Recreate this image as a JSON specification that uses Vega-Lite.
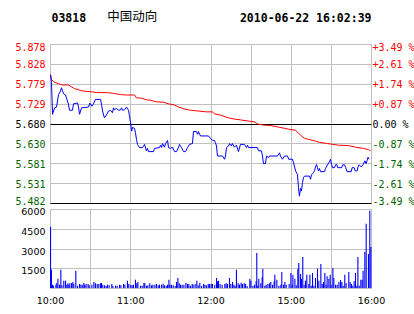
{
 "$schema": "https://vega.github.io/schema/vega-lite/v6.json",
 "padding": {"left": 14, "top": 10, "right": 0, "bottom": 5},
 "background": "#ffffff",
 "config": {
  "view": {"stroke": "#c0c0c0"},
  "axis": {"gridColor": "#c0c0c0", "gridOpacity": 1, "domain": false, "ticks": false}
 },
 "bounds": "flush",
 "spacing": 6,
 "datasets": {
  "avg": [
   {"t":0.4,"p":5.802},{"t":1.1,"p":5.790},{"t":2.6,"p":5.784},{"t":6.4,"p":5.779},{"t":9.3,"p":5.776},{"t":13.8,"p":5.776},{"t":16.1,"p":5.771},{"t":18.3,"p":5.767},{"t":21.3,"p":5.764},{"t":24.3,"p":5.761},{"t":31.0,"p":5.759},{"t":34.8,"p":5.757},{"t":42.2,"p":5.757},{"t":47.5,"p":5.755},{"t":52.7,"p":5.752},{"t":57.2,"p":5.751},{"t":63.2,"p":5.751},{"t":64.7,"p":5.744},{"t":68.4,"p":5.743},{"t":72.1,"p":5.739},{"t":75.1,"p":5.738},{"t":79.6,"p":5.734},{"t":84.9,"p":5.733},{"t":88.6,"p":5.729},{"t":93.1,"p":5.726},{"t":96.1,"p":5.721},{"t":100.6,"p":5.716},{"t":105.0,"p":5.713},{"t":111.0,"p":5.711},{"t":117.0,"p":5.709},{"t":121.5,"p":5.709},{"t":123.0,"p":5.704},{"t":127.5,"p":5.701},{"t":133.5,"p":5.694},{"t":137.9,"p":5.691},{"t":142.4,"p":5.689},{"t":148.4,"p":5.686},{"t":152.9,"p":5.684},{"t":155.1,"p":5.679},{"t":159.6,"p":5.676},{"t":164.9,"p":5.675},{"t":170.8,"p":5.671},{"t":175.3,"p":5.668},{"t":178.3,"p":5.666},{"t":183.6,"p":5.663},{"t":185.8,"p":5.656},{"t":188.0,"p":5.649},{"t":190.3,"p":5.643},{"t":194.0,"p":5.640},{"t":198.5,"p":5.636},{"t":201.5,"p":5.633},{"t":207.5,"p":5.630},{"t":215.7,"p":5.626},{"t":223.2,"p":5.625},{"t":228.4,"p":5.621},{"t":234.4,"p":5.618},{"t":238.1,"p":5.615},{"t":239.6,"p":5.612}
  ],
  "px": [
   {"t":0.4,"p":5.801},{"t":1.1,"p":5.782},{"t":1.9,"p":5.703},{"t":3.4,"p":5.719},{"t":4.9,"p":5.721},{"t":5.6,"p":5.736},{"t":6.4,"p":5.752},{"t":7.9,"p":5.761},{"t":8.6,"p":5.769},{"t":9.3,"p":5.762},{"t":10.1,"p":5.754},{"t":11.6,"p":5.751},{"t":12.3,"p":5.744},{"t":13.8,"p":5.728},{"t":14.6,"p":5.713},{"t":16.8,"p":5.713},{"t":17.6,"p":5.729},{"t":20.6,"p":5.731},{"t":21.3,"p":5.721},{"t":22.1,"p":5.703},{"t":23.6,"p":5.719},{"t":28.8,"p":5.721},{"t":29.8,"p":5.731},{"t":31.3,"p":5.723},{"t":32.5,"p":5.729},{"t":34.0,"p":5.740},{"t":37.8,"p":5.740},{"t":38.5,"p":5.728},{"t":39.3,"p":5.711},{"t":40.7,"p":5.694},{"t":42.2,"p":5.701},{"t":43.7,"p":5.711},{"t":45.2,"p":5.713},{"t":46.7,"p":5.707},{"t":47.5,"p":5.719},{"t":48.2,"p":5.714},{"t":49.7,"p":5.718},{"t":51.2,"p":5.713},{"t":52.7,"p":5.714},{"t":53.5,"p":5.719},{"t":54.2,"p":5.713},{"t":55.7,"p":5.714},{"t":57.2,"p":5.721},{"t":58.7,"p":5.713},{"t":59.4,"p":5.699},{"t":60.2,"p":5.683},{"t":61.0,"p":5.661},{"t":61.7,"p":5.670},{"t":63.2,"p":5.668},{"t":63.9,"p":5.657},{"t":64.7,"p":5.640},{"t":65.4,"p":5.628},{"t":66.9,"p":5.620},{"t":69.2,"p":5.620},{"t":70.7,"p":5.628},{"t":72.1,"p":5.612},{"t":72.9,"p":5.618},{"t":73.6,"p":5.610},{"t":77.4,"p":5.610},{"t":78.1,"p":5.618},{"t":81.9,"p":5.620},{"t":82.6,"p":5.626},{"t":83.4,"p":5.620},{"t":84.1,"p":5.630},{"t":85.6,"p":5.621},{"t":86.4,"p":5.630},{"t":87.9,"p":5.638},{"t":88.6,"p":5.620},{"t":90.1,"p":5.618},{"t":91.6,"p":5.621},{"t":93.1,"p":5.610},{"t":94.6,"p":5.610},{"t":96.1,"p":5.621},{"t":96.8,"p":5.628},{"t":98.3,"p":5.620},{"t":99.8,"p":5.610},{"t":101.3,"p":5.610},{"t":102.8,"p":5.620},{"t":104.3,"p":5.628},{"t":106.5,"p":5.630},{"t":107.3,"p":5.660},{"t":109.5,"p":5.660},{"t":110.3,"p":5.653},{"t":111.0,"p":5.660},{"t":112.5,"p":5.649},{"t":118.5,"p":5.649},{"t":120.0,"p":5.643},{"t":121.5,"p":5.638},{"t":123.0,"p":5.638},{"t":123.7,"p":5.632},{"t":124.5,"p":5.624},{"t":125.2,"p":5.599},{"t":129.0,"p":5.599},{"t":130.5,"p":5.591},{"t":131.2,"p":5.599},{"t":132.0,"p":5.620},{"t":133.5,"p":5.624},{"t":134.2,"p":5.630},{"t":135.7,"p":5.624},{"t":136.4,"p":5.630},{"t":137.9,"p":5.621},{"t":139.4,"p":5.626},{"t":140.9,"p":5.610},{"t":142.4,"p":5.628},{"t":145.4,"p":5.628},{"t":146.9,"p":5.620},{"t":147.7,"p":5.626},{"t":148.4,"p":5.620},{"t":155.1,"p":5.620},{"t":155.9,"p":5.612},{"t":158.1,"p":5.612},{"t":158.9,"p":5.599},{"t":159.6,"p":5.580},{"t":161.1,"p":5.580},{"t":161.9,"p":5.599},{"t":163.4,"p":5.595},{"t":164.1,"p":5.599},{"t":170.1,"p":5.599},{"t":171.6,"p":5.607},{"t":172.3,"p":5.599},{"t":173.8,"p":5.591},{"t":175.3,"p":5.599},{"t":177.6,"p":5.599},{"t":178.4,"p":5.591},{"t":181.3,"p":5.591},{"t":182.1,"p":5.582},{"t":183.6,"p":5.562},{"t":185.0,"p":5.553},{"t":185.8,"p":5.520},{"t":186.5,"p":5.499},{"t":187.3,"p":5.518},{"t":188.0,"p":5.512},{"t":188.8,"p":5.533},{"t":189.5,"p":5.545},{"t":190.3,"p":5.549},{"t":194.0,"p":5.549},{"t":194.8,"p":5.541},{"t":195.5,"p":5.552},{"t":196.3,"p":5.555},{"t":197.8,"p":5.562},{"t":198.5,"p":5.572},{"t":199.3,"p":5.578},{"t":200.0,"p":5.570},{"t":200.7,"p":5.562},{"t":201.5,"p":5.568},{"t":202.2,"p":5.560},{"t":205.2,"p":5.560},{"t":206.0,"p":5.568},{"t":207.5,"p":5.577},{"t":209.0,"p":5.585},{"t":209.7,"p":5.591},{"t":210.5,"p":5.578},{"t":211.2,"p":5.570},{"t":212.7,"p":5.570},{"t":213.7,"p":5.578},{"t":214.4,"p":5.578},{"t":215.1,"p":5.570},{"t":218.1,"p":5.570},{"t":218.8,"p":5.577},{"t":220.3,"p":5.577},{"t":221.1,"p":5.570},{"t":222.1,"p":5.560},{"t":225.2,"p":5.560},{"t":225.9,"p":5.570},{"t":227.4,"p":5.570},{"t":228.2,"p":5.562},{"t":229.7,"p":5.562},{"t":230.3,"p":5.572},{"t":231.1,"p":5.577},{"t":232.6,"p":5.572},{"t":234.1,"p":5.578},{"t":235.5,"p":5.587},{"t":236.3,"p":5.580},{"t":237.1,"p":5.588},{"t":237.8,"p":5.596},{"t":238.6,"p":5.591}
  ],
  "vol": [
   {"t":0.4,"v":4655},{"t":1.1,"v":1390},{"t":1.9,"v":253},{"t":2.6,"v":177},{"t":4.4,"v":253},{"t":5.1,"v":380},{"t":5.9,"v":708},{"t":7.1,"v":253},{"t":8.1,"v":1392},{"t":8.9,"v":202},{"t":10.3,"v":557},{"t":11.6,"v":557},{"t":12.1,"v":253},{"t":13.3,"v":354},{"t":14.1,"v":253},{"t":14.8,"v":354},{"t":16.1,"v":380},{"t":17.1,"v":455},{"t":17.8,"v":304},{"t":19.3,"v":1316},{"t":20.6,"v":177},{"t":22.1,"v":304},{"t":23.1,"v":253},{"t":24.1,"v":253},{"t":25.3,"v":380},{"t":26.0,"v":253},{"t":27.0,"v":304},{"t":28.5,"v":304},{"t":29.3,"v":202},{"t":31.3,"v":253},{"t":32.8,"v":455},{"t":34.0,"v":354},{"t":35.3,"v":304},{"t":36.5,"v":304},{"t":37.8,"v":354},{"t":38.5,"v":380},{"t":39.5,"v":253},{"t":40.8,"v":202},{"t":42.0,"v":152},{"t":43.0,"v":253},{"t":44.2,"v":202},{"t":46.2,"v":304},{"t":47.0,"v":152},{"t":49.0,"v":177},{"t":50.2,"v":177},{"t":52.0,"v":253},{"t":53.0,"v":202},{"t":55.0,"v":304},{"t":56.0,"v":253},{"t":57.9,"v":557},{"t":58.9,"v":304},{"t":60.4,"v":253},{"t":61.4,"v":202},{"t":62.4,"v":253},{"t":63.9,"v":633},{"t":64.9,"v":354},{"t":65.7,"v":455},{"t":67.7,"v":177},{"t":68.9,"v":177},{"t":70.2,"v":380},{"t":70.9,"v":380},{"t":72.2,"v":177},{"t":73.2,"v":202},{"t":74.6,"v":354},{"t":75.9,"v":202},{"t":76.9,"v":253},{"t":78.4,"v":253},{"t":79.6,"v":304},{"t":80.9,"v":202},{"t":81.9,"v":253},{"t":83.4,"v":253},{"t":84.6,"v":329},{"t":85.6,"v":202},{"t":86.9,"v":177},{"t":87.9,"v":253},{"t":88.9,"v":633},{"t":89.6,"v":253},{"t":90.8,"v":253},{"t":92.1,"v":202},{"t":93.6,"v":152},{"t":94.6,"v":455},{"t":95.6,"v":759},{"t":96.6,"v":354},{"t":97.6,"v":253},{"t":98.8,"v":253},{"t":100.1,"v":253},{"t":101.6,"v":405},{"t":102.8,"v":304},{"t":103.8,"v":304},{"t":105.0,"v":177},{"t":106.3,"v":304},{"t":107.0,"v":253},{"t":108.5,"v":304},{"t":109.8,"v":557},{"t":110.8,"v":202},{"t":112.0,"v":405},{"t":113.3,"v":152},{"t":114.8,"v":304},{"t":115.8,"v":253},{"t":117.0,"v":202},{"t":118.3,"v":304},{"t":119.3,"v":304},{"t":120.5,"v":304},{"t":121.5,"v":304},{"t":123.2,"v":253},{"t":124.5,"v":759},{"t":125.2,"v":506},{"t":126.0,"v":557},{"t":127.2,"v":304},{"t":128.7,"v":253},{"t":130.7,"v":304},{"t":131.7,"v":354},{"t":132.7,"v":304},{"t":134.2,"v":759},{"t":135.2,"v":304},{"t":136.5,"v":455},{"t":137.5,"v":253},{"t":138.4,"v":177},{"t":139.4,"v":1392},{"t":140.7,"v":354},{"t":141.7,"v":253},{"t":142.9,"v":405},{"t":143.9,"v":304},{"t":145.2,"v":354},{"t":146.2,"v":304},{"t":147.4,"v":152},{"t":149.4,"v":708},{"t":150.2,"v":557},{"t":151.7,"v":177},{"t":152.9,"v":253},{"t":154.1,"v":506},{"t":154.6,"v":2657},{"t":155.4,"v":177},{"t":156.1,"v":708},{"t":157.6,"v":354},{"t":158.6,"v":810},{"t":159.1,"v":1468},{"t":160.6,"v":177},{"t":161.6,"v":253},{"t":162.9,"v":304},{"t":164.1,"v":354},{"t":165.1,"v":455},{"t":166.4,"v":253},{"t":167.6,"v":506},{"t":168.1,"v":1012},{"t":169.6,"v":633},{"t":171.1,"v":177},{"t":172.6,"v":253},{"t":173.3,"v":1215},{"t":174.6,"v":253},{"t":175.6,"v":455},{"t":176.6,"v":253},{"t":178.8,"v":304},{"t":180.1,"v":1139},{"t":181.1,"v":253},{"t":181.6,"v":1012},{"t":183.1,"v":708},{"t":184.1,"v":202},{"t":185.3,"v":1443},{"t":186.0,"v":1898},{"t":187.3,"v":1063},{"t":188.0,"v":708},{"t":189.0,"v":2353},{"t":190.0,"v":253},{"t":191.0,"v":557},{"t":192.0,"v":1012},{"t":193.5,"v":304},{"t":194.3,"v":1012},{"t":195.3,"v":177},{"t":196.3,"v":1139},{"t":197.3,"v":177},{"t":198.5,"v":759},{"t":200.0,"v":1468},{"t":201.0,"v":557},{"t":202.5,"v":1822},{"t":203.5,"v":304},{"t":204.5,"v":455},{"t":205.5,"v":1139},{"t":206.5,"v":253},{"t":207.2,"v":885},{"t":208.5,"v":708},{"t":209.5,"v":1012},{"t":210.2,"v":253},{"t":211.5,"v":1518},{"t":212.2,"v":759},{"t":213.5,"v":253},{"t":214.7,"v":253},{"t":216.0,"v":455},{"t":217.2,"v":607},{"t":218.2,"v":455},{"t":219.2,"v":177},{"t":220.4,"v":1012},{"t":221.4,"v":354},{"t":223.4,"v":1215},{"t":224.4,"v":455},{"t":225.4,"v":304},{"t":226.4,"v":177},{"t":227.4,"v":506},{"t":228.4,"v":1139},{"t":229.4,"v":177},{"t":230.2,"v":2353},{"t":231.2,"v":177},{"t":232.4,"v":633},{"t":233.4,"v":633},{"t":234.1,"v":1316},{"t":235.4,"v":2732},{"t":236.4,"v":4883},{"t":238.1,"v":2580},{"t":239.1,"v":5870},{"t":239.9,"v":3112}
  ]
 },
 "vconcat": [
  {
   "width": 321,
   "height": 159,
   "layer": [
    {
     "data": {"name": "avg"},
     "mark": {"type": "line", "color": "#ff0000", "strokeWidth": 1},
     "encoding": {
      "x": {"field": "t", "type": "quantitative", "scale": {"domain": [0, 240], "nice": false, "zero": false},
       "axis": {"orient": "top", "values": [0,30,60,90,120,150,180,210,240], "labels": false, "ticks": false, "domain": false, "grid": true,
        "title": "中国动向", "titleFont": "Noto Sans CJK SC", "titleFontSize": 12.5, "titleFontWeight": "normal", "titleColor": "#000000",
        "titleX": 56.7, "titleY": -23.5, "titleAlign": "left", "titleBaseline": "alphabetic", "titleAngle": 0}},
      "y": {"field": "p", "type": "quantitative", "scale": {"domain": [5.482, 5.878], "nice": false, "zero": false},
       "axis": {"orient": "left", "values": [5.482,5.5315,5.581,5.6305,5.68,5.7295,5.779,5.8285,5.878],
        "labelExpr": "format(floor(datum.value*1000+0.01)/1000, '.3f')",
        "labelFont": "DejaVu Sans Mono", "labelFontSize": 10, "labelPadding": 5, "labelFlush": true, "labelFlushOffset": 2.5, "labelOffset": 1,
        "labelColor": {"condition": [{"test": "datum.value > 5.681", "value": "#ff0000"}, {"test": "datum.value < 5.679", "value": "#006400"}], "value": "#000000"},
        "grid": true,
        "gridColor": {"condition": {"test": "abs(datum.value-5.68) < 0.001 || datum.value < 5.483", "value": "#000000"}, "value": "#c0c0c0"},
        "title": "03818", "titleFont": "DejaVu Sans Mono", "titleFontSize": 11.5, "titleFontWeight": "bold", "titleColor": "#000000",
        "titleAngle": 0, "titleX": 1, "titleY": -22.6, "titleAlign": "left", "titleBaseline": "alphabetic"}}
     }
    },
    {
     "data": {"name": "px"},
     "mark": {"type": "line", "color": "#0000ff", "strokeWidth": 1},
     "encoding": {
      "x": {"field": "t", "type": "quantitative", "scale": {"domain": [0, 240], "nice": false, "zero": false},
       "axis": {"orient": "top", "values": [0,30,60,90,120,150,180,210,240], "labels": false, "ticks": false, "domain": false, "grid": true,
        "title": "中国动向", "titleFont": "Noto Sans CJK SC", "titleFontSize": 12.5, "titleFontWeight": "normal", "titleColor": "#000000",
        "titleX": 56.7, "titleY": -23.5, "titleAlign": "left", "titleBaseline": "alphabetic", "titleAngle": 0}},
      "y": {"field": "p", "type": "quantitative", "scale": {"domain": [5.482, 5.878], "nice": false, "zero": false},
       "axis": {"orient": "right", "values": [5.482,5.5315,5.581,5.6305,5.68,5.7295,5.779,5.8285,5.878],
        "labelExpr": "(abs(datum.value-5.68) < 0.001 ? '\u00a00.00' : (datum.value > 5.68 ? '+' : '-') + format(abs(datum.value-5.68)/5.68*100, '.2f')) + '\u00a0%'",
        "labelFont": "DejaVu Sans Mono", "labelFontSize": 10, "labelPadding": 1, "labelFlush": true, "labelFlushOffset": 2.5, "labelOffset": 1, "labelAlign": "left",
        "labelColor": {"condition": [{"test": "datum.value > 5.681", "value": "#ff0000"}, {"test": "datum.value < 5.679", "value": "#006400"}], "value": "#000000"},
        "grid": false,
        "title": "2010-06-22 16:02:39", "titleFont": "DejaVu Sans Mono", "titleFontSize": 11.5, "titleFontWeight": "bold", "titleColor": "#000000",
        "titleAngle": 0, "titleX": 0, "titleY": -22.6, "titleAlign": "right", "titleBaseline": "alphabetic"}}
     }
    }
   ],
   "resolve": {"scale": {"y": "independent"}, "axis": {"y": "independent"}}
  },
  {
   "width": 321,
   "height": 79,
   "data": {"name": "vol"},
   "mark": {"type": "bar", "color": "#0000ff", "size": 1.1},
   "encoding": {
    "x": {"field": "t", "type": "quantitative", "scale": {"domain": [0, 240], "nice": false, "zero": false, "padding": 0},
     "axis": {"orient": "bottom", "values": [0,30,60,90,120,150,180,210,240],
      "labelExpr": "datum.value == 0 ? '10:00' : datum.value == 60 ? '11:00' : datum.value == 120 ? '12:00' : datum.value == 180 ? '15:00' : datum.value == 240 ? '16:00' : ''",
      "labelFont": "DejaVu Sans", "labelFontSize": 9.5, "labelColor": "#000000", "labelPadding": 7, "labelFlush": false, "grid": true, "title": null}},
    "y": {"field": "v", "type": "quantitative", "scale": {"domain": [0, 6000], "nice": false, "padding": 0},
     "axis": {"values": [1500, 3000, 4500, 6000], "format": "d", "labelFont": "DejaVu Sans", "labelFontSize": 9.5, "labelPadding": 5,
      "labelOffset": 2.5, "labelColor": "#000000", "grid": true, "title": null}}
   }
  }
 ]
}
